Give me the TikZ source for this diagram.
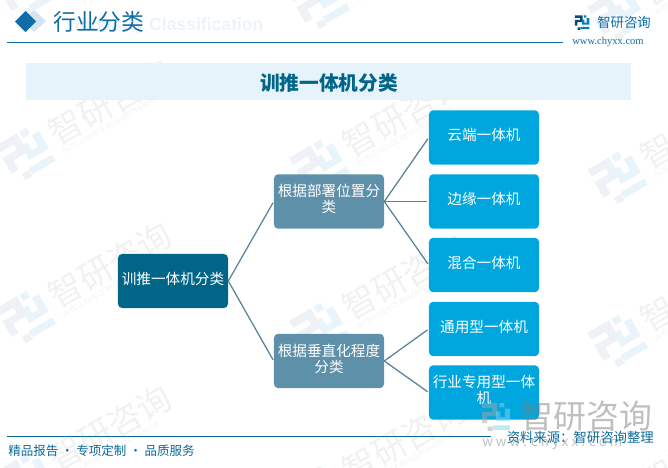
\documentclass[tikz,border=0pt]{standalone}
\usepackage{fontspec}
\setmainfont{Noto Sans CJK SC}
\newfontfamily\latinbold{Liberation Sans}[BoldFont={Liberation Sans Bold}]
\newfontfamily\urlfont{Liberation Serif}
\usetikzlibrary{positioning}
\definecolor{rootcol}{HTML}{006587}
\definecolor{midcol}{HTML}{5E90A9}
\definecolor{leafcol}{HTML}{00A6DE}
\definecolor{headcol}{HTML}{0F6CA6}
\definecolor{rulecol}{HTML}{0B6A9A}
\definecolor{bandcol}{HTML}{E6F3FB}
\definecolor{linkcol}{HTML}{5B8398}
\definecolor{marktext}{HTML}{F1F1F2}
\definecolor{markleft}{HTML}{EEF1F5}
\definecolor{markright}{HTML}{E9F3FA}
\tikzset{
  treebox/.style={rounded corners=3pt,minimum width=2.75cm,align=center,text=white,
    font=\fontsize{10.4}{11.5}\selectfont,inner sep=0pt,text depth=4pt},
  rootbox/.style={treebox,fill=rootcol,minimum height=1.35cm},
  midbox/.style={treebox,fill=midcol,minimum height=1.36cm},
  leafbox/.style={treebox,fill=leafcol,minimum height=1.36cm},
  link/.style={draw=linkcol,line width=0.9pt,shorten >=1pt},
  wmark/.style={text=marktext,rotate=30,anchor=west,inner sep=0pt,font=\fontsize{24}{24}\selectfont},
  wsmall/.style={text=marktext,rotate=30,anchor=west,inner sep=0pt,font=\fontsize{5}{5}\selectfont},
  pics/brandlogo/.style 2 args={code={
    \begin{scope}[shift={(-.5,-.5)}]
    \fill[#1] (0,0) rectangle (.55,.18) (.37,0) rectangle (.55,.48) (0,.32) rectangle (.55,.48) (0,.32) rectangle (.18,.72) (.2,.84) rectangle (.38,1);
    \fill[#2] (.62,0) rectangle (.8,.16) (.82,.2) rectangle (1,.65) (.5,.5) rectangle (1,.65) (.5,.3) rectangle (.66,.65) (.4,.8) rectangle (1,.96);
    \end{scope}
  }},
}
\begin{document}
\begin{tikzpicture}[x=0.025cm,y=-0.025cm]
\useasboundingbox (0,0) rectangle (668,467);
% watermarks
\begin{scope}
\clip (0,0) rectangle (668,467);
\foreach \x/\y in {26/-9,26/154,26/317,26/480,320/3,320/166,320/329,320/492,618/15,618/178,618/341,618/504} {
  \begin{scope}[shift={(\x,\y)},rotate=30]
    \pic[rotate=30,scale=45] at (0,0) {brandlogo={markleft}{markright}};
    \node[wmark] (mark-\x-\y) at (31,-3) {智研咨询};
    \node[wsmall] (small-\x-\y) at (33,17) {INTELLIGENCE RESEARCH GROUP};
  \end{scope}
}
\end{scope}
% header
\node[text=bandcol!90!white,font=\latinbold\bfseries\fontsize{12.5}{12.5}\selectfont,anchor=west] (subtitle) at (70,26) {Industry Classification};
\fill[headcol!18!white] (34,10) -- (46,21) -- (34,32) -- (23,21) -- cycle;
\fill[headcol] (25.5,11) -- (36,21.5) -- (25.5,32) -- (15,21.5) -- cycle;
\node[text=headcol,font=\fontsize{16.2}{16.2}\selectfont,anchor=west,inner sep=0pt] (head) at (53,21.5) {行业分类};
\draw[rulecol,line width=0.7pt] (7,42.5) -- (563,42.5);
% logo
\pic[scale=14.5] at (582,22.5) {brandlogo={headcol!70!black}{headcol!70!leafcol}};
\node[text=headcol,font=\fontsize{9.5}{9.5}\selectfont,anchor=west,inner sep=0pt] (brand) at (597,22) {智研咨询};
\node[text=headcol,font=\urlfont\fontsize{7.5}{7.5}\selectfont,anchor=west,inner sep=0pt] (url) at (572,42) {www.chyxx.com};
% title band
\fill[bandcol] (26,63) rectangle (631,100);
\node[text=rootcol,font=\bfseries\fontsize{14}{14}\selectfont,inner sep=0pt] (title) at (329,83) {训推一体机分类};
% tree
\node[rootbox] (root) at (173,281) {训推一体机分类};
\node[midbox] (place) at (329,201.5) {根据部署位置分\\类};
\node[midbox] (vert) at (329,361) {根据垂直化程度\\分类};
\node[leafbox] (cloud) at (484,137.5) {云端一体机};
\node[leafbox] (edge) at (484,201.5) {边缘一体机};
\node[leafbox] (mixed) at (484,265) {混合一体机};
\node[leafbox] (general) at (484,329) {通用型一体机};
\node[leafbox] (trade) at (484,392.5) {行业专用型一体\\机};
\draw[link] (root.east) -- (place.west);
\draw[link] (root.east) -- (vert.west);
\foreach \n in {cloud,edge,mixed} \draw[link] (place.east) -- (\n.west);
\foreach \n in {general,trade} \draw[link] (vert.east) -- (\n.west);
% big mark over the corner
\begin{scope}[opacity=0.5]
\pic[scale=28] at (496,417) {brandlogo={gray!70}{leafcol!50}};
\node[text=gray,font=\fontsize{23.4}{23.4}\selectfont,anchor=west,inner sep=0pt] (bigmark) at (520,416) {智研咨询};
\node[text=gray,font=\fontsize{9.5}{9.5}\selectfont,anchor=west,inner sep=0pt] (bigurl) at (482,443) {w w w . c h y x x . c o m};
\end{scope}
% footer
\draw[rulecol,line width=0.7pt] (7,436.5) -- (491,436.5);
\node[text=rulecol,font=\fontsize{9.5}{9.5}\selectfont,anchor=east,inner sep=0pt] (source) at (654,437) {资料来源：智研咨询整理};
\node[text=rulecol,font=\fontsize{8.9}{8.9}\selectfont,anchor=west,inner sep=0pt] (slogan) at (8,451) {精品报告 · 专项定制 · 品质服务};
\end{tikzpicture}
\end{document}
